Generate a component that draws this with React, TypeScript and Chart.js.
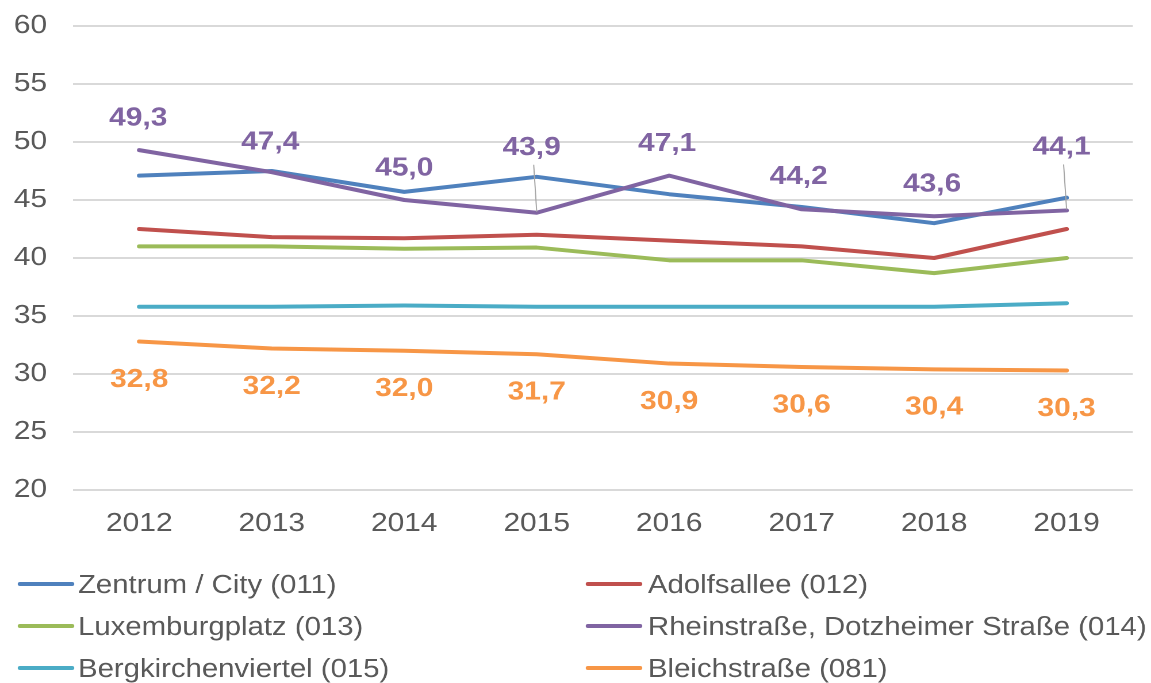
import { useEffect, useRef } from "react";
import { Chart, registerables } from "chart.js";

Chart.register(...registerables);

// ---- Data ----
const years = ["2012", "2013", "2014", "2015", "2016", "2017", "2018", "2019"];
const zentrum = [47.1, 47.5, 45.7, 47.0, 45.5, 44.4, 43.0, 45.2];
const adolfsallee = [42.5, 41.8, 41.7, 42.0, 41.5, 41.0, 40.0, 42.5];
const luxemburgplatz = [41.0, 41.0, 40.8, 40.9, 39.8, 39.8, 38.7, 40.0];
const rheinstrasse = [49.3, 47.4, 45.0, 43.9, 47.1, 44.2, 43.6, 44.1];
const bergkirchenviertel = [35.8, 35.8, 35.9, 35.8, 35.8, 35.8, 35.8, 36.1];
const bleichstrasse = [32.8, 32.2, 32.0, 31.7, 30.9, 30.6, 30.4, 30.3];

const seriesNames = [
  "Zentrum / City (011)",
  "Adolfsallee (012)",
  "Luxemburgplatz (013)",
  "Rheinstraße, Dotzheimer Straße (014)",
  "Bergkirchenviertel (015)",
  "Bleichstraße (081)",
];
const seriesValues = [zentrum, adolfsallee, luxemburgplatz, rheinstrasse, bergkirchenviertel, bleichstrasse];
const seriesColors = ["#4F81BD", "#C0504D", "#9BBB59", "#8064A2", "#4BACC6", "#F79646"];

const yMin = 20;
const yMax = 60;
const yStep = 5;

// ---- Style / layout ----
const FONT = "'Liberation Sans', Arial, sans-serif";
const PAGE_W = 1151;
const PAGE_H = 683;
const INNER_W = 1001;
const S = PAGE_W / INNER_W; // horizontal stretch of the original picture

const fmt = (v: number) => v.toFixed(1).replace(".", ",");

const labelSpecs = [
  {
    dataset: 3,
    color: "#8064A2",
    dy: [-34, -32, -34, -67, -34, -34.5, -34, -65],
    dx: [-1, -1.5, 0, -5, -2, -3, -2, -5],
    leaders: [3, 7],
  },
  {
    dataset: 5,
    color: "#F79646",
    dy: [36, 36, 36, 36, 36, 36, 36, 36],
    dx: [0, 0, 0, 0, 0, 0, 0, 0],
    leaders: [] as number[],
  },
];

const valueLabelPlugin = {
  id: "valueLabels",
  afterDatasetsDraw(chart: any) {
    const ctx = chart.ctx as CanvasRenderingContext2D;
    const size = 26;
    ctx.save();
    ctx.font = `bold ${size}px ${FONT}`;
    ctx.textAlign = "center";
    ctx.textBaseline = "alphabetic";
    for (const spec of labelSpecs) {
      const meta = chart.getDatasetMeta(spec.dataset);
      const vals = chart.data.datasets[spec.dataset].data as number[];
      meta.data.forEach((pt: any, i: number) => {
        const x = pt.x + spec.dx[i] / S;
        const cy = pt.y + spec.dy[i];
        if (spec.leaders.includes(i)) {
          ctx.strokeStyle = "#A6A6A6";
          ctx.lineWidth = 1;
          ctx.beginPath();
          ctx.moveTo(x + 2 / S, cy + 19);
          ctx.lineTo(pt.x, pt.y - 1);
          ctx.stroke();
        }
        ctx.fillStyle = spec.color;
        ctx.fillText(fmt(vals[i]), x, cy + 0.358 * size);
      });
    }
    ctx.restore();
  },
};

const legendPlugin = {
  id: "gridLegend",
  afterDraw(chart: any) {
    const ctx = chart.ctx as CanvasRenderingContext2D;
    const size = 25.5;
    const rowY = [584, 626, 668];
    const colLine = [
      [20 / S, 72 / S],
      [588 / S, 640 / S],
    ];
    const colText = [78 / S, 648 / S];
    ctx.save();
    ctx.font = `${size}px ${FONT}`;
    ctx.textAlign = "left";
    ctx.textBaseline = "alphabetic";
    chart.data.datasets.forEach((ds: any, i: number) => {
      const r = Math.floor(i / 2);
      const c = i % 2;
      const y = rowY[r];
      ctx.strokeStyle = ds.borderColor;
      ctx.lineWidth = 4;
      ctx.lineCap = "round";
      ctx.beginPath();
      ctx.moveTo(colLine[c][0], y);
      ctx.lineTo(colLine[c][1], y);
      ctx.stroke();
      ctx.fillStyle = "#595959";
      ctx.fillText(ds.label, colText[c], y + 0.358 * size);
    });
    ctx.restore();
  },
};

export default function App() {
  const canvasRef = useRef<HTMLCanvasElement | null>(null);

  useEffect(() => {
    const canvas = canvasRef.current;
    if (!canvas) return;
    const datasets = seriesValues.map((data, i) => ({
      label: seriesNames[i],
      data,
      borderColor: seriesColors[i],
      backgroundColor: seriesColors[i],
      borderWidth: 4,
      pointRadius: 0,
      pointHoverRadius: 0,
      tension: 0,
      fill: false,
      borderCapStyle: "round" as const,
      borderJoinStyle: "round" as const,
      order: -i,
    }));
    const chart = new Chart(canvas, {
      type: "line",
      data: { labels: years, datasets },
      options: {
        animation: false,
        responsive: true,
        maintainAspectRatio: false,
        devicePixelRatio: 2,
        events: [],
        layout: { padding: { top: 26, bottom: 138, left: 0, right: 15.8 } },
        plugins: {
          legend: { display: false },
          tooltip: { enabled: false },
        },
        scales: {
          x: {
            offset: true,
            grid: { display: false, drawTicks: false },
            border: { display: false },
            ticks: {
              color: "#595959",
              font: { family: FONT, size: 26 },
              padding: 18,
              maxRotation: 0,
              autoSkip: false,
            },
            afterFit: (s: any) => {
              s.height = 55;
              s.paddingLeft = 0;
              s.paddingRight = 0;
            },
          },
          y: {
            min: yMin,
            max: yMax,
            grid: { color: "#D9D9D9", lineWidth: 2, drawTicks: false },
            border: { display: false },
            ticks: {
              stepSize: yStep,
              color: "#595959",
              font: { family: FONT, size: 26 },
              padding: 22.6,
            },
            afterFit: (s: any) => {
              s.width = 63.5;
              s.paddingTop = 0;
              s.paddingBottom = 0;
            },
          },
        },
      },
      plugins: [valueLabelPlugin, legendPlugin],
    });
    return () => chart.destroy();
  }, []);

  return (
    <div
      style={{
        position: "absolute",
        left: 0,
        top: 0,
        width: PAGE_W,
        height: PAGE_H,
        overflow: "hidden",
        background: "#fff",
      }}
    >
      <div
        style={{
          position: "relative",
          width: INNER_W,
          height: PAGE_H,
          transform: `scaleX(${S})`,
          transformOrigin: "0 0",
        }}
      >
        <canvas ref={canvasRef} style={{ display: "block" }} />
      </div>
    </div>
  );
}
